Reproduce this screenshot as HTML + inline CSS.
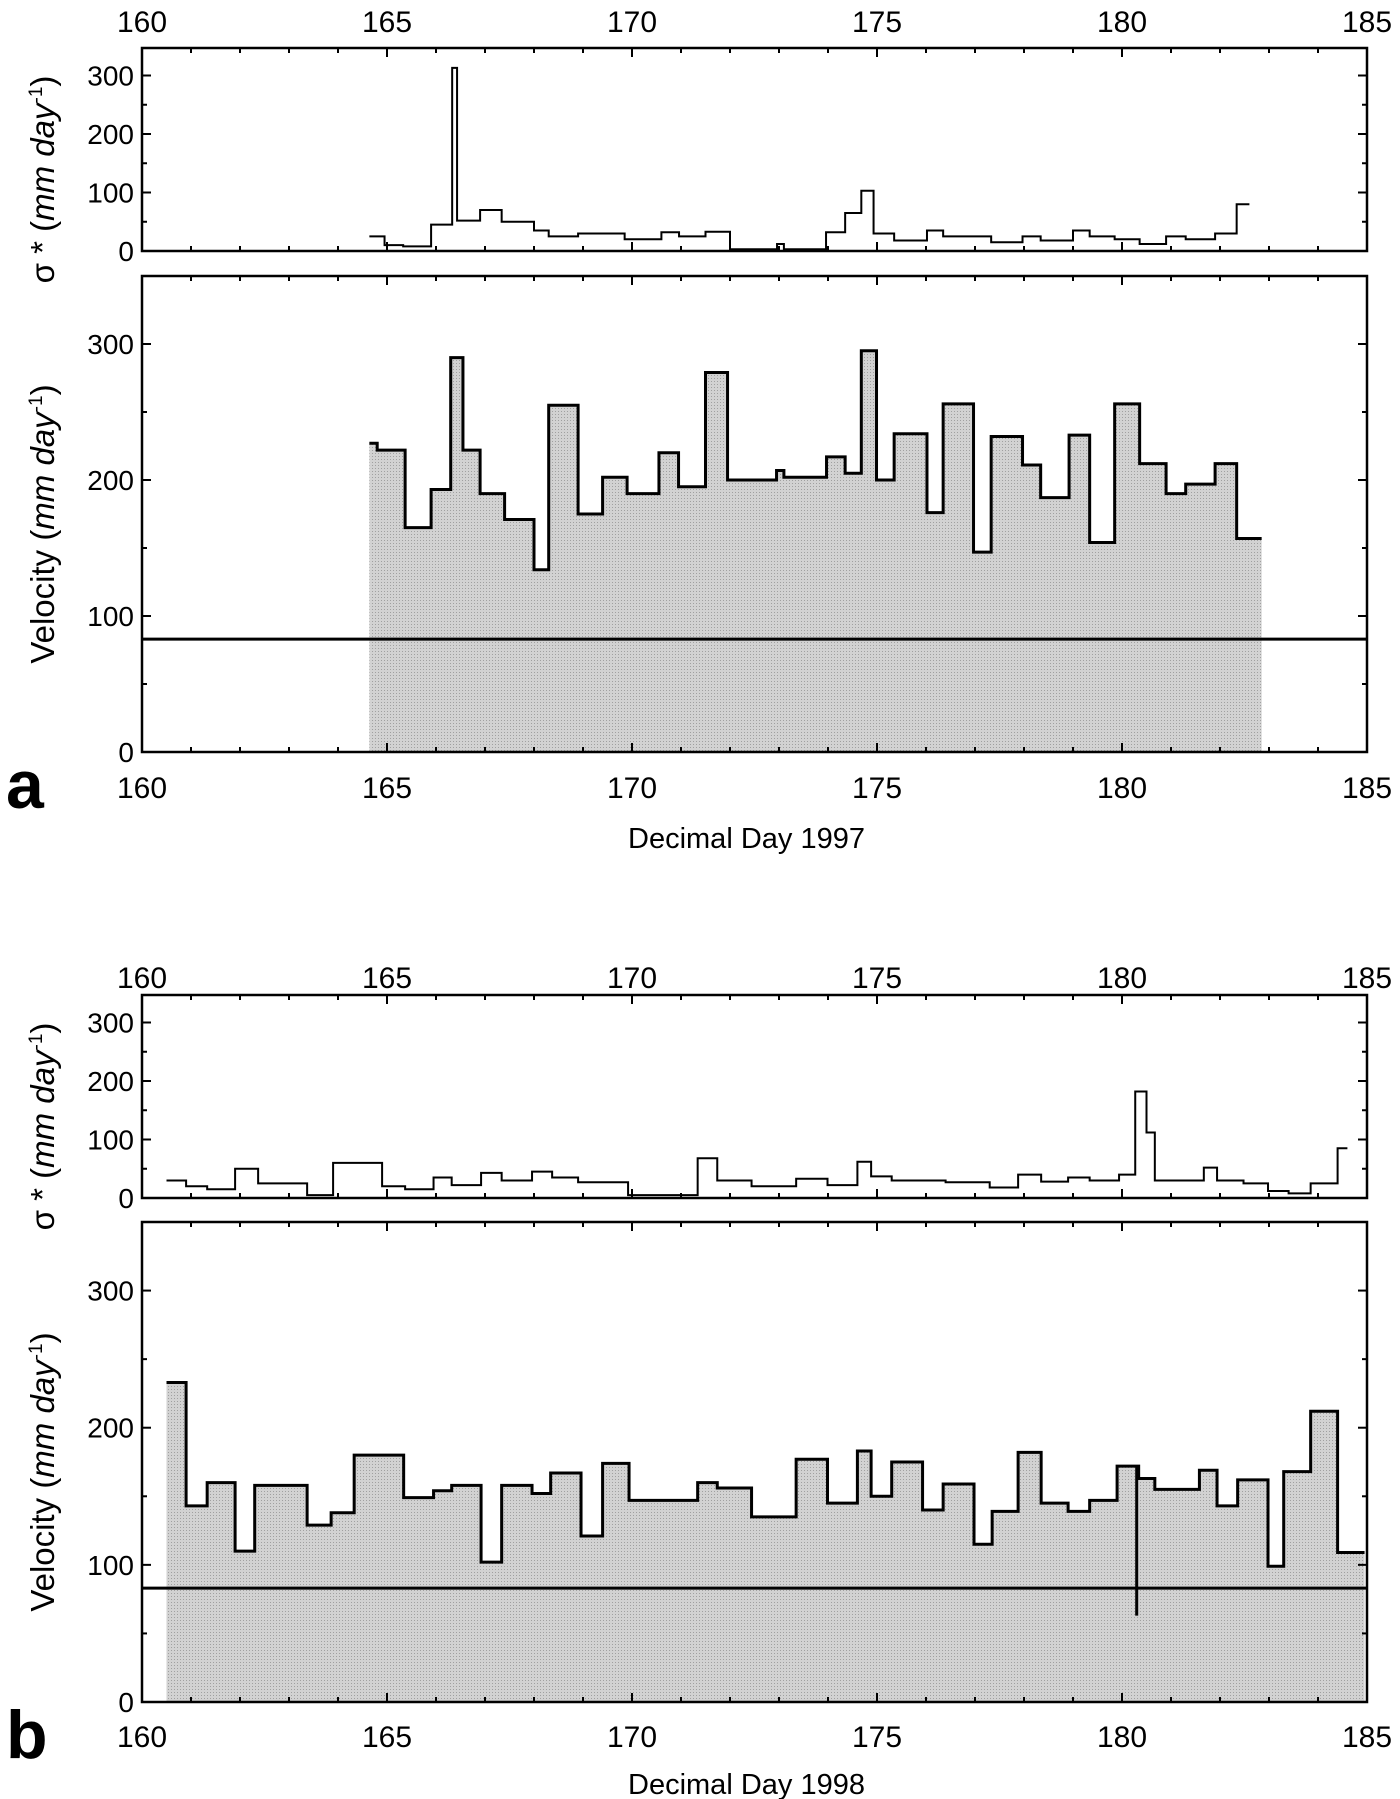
<!DOCTYPE html>
<html><head><meta charset="utf-8">
<style>
html,body{margin:0;padding:0;background:#fff;}
svg{display:block;font-family:"Liberation Sans",Arial,sans-serif;}
</style></head>
<body>
<svg id="chart" width="1400" height="1799" viewBox="0 0 1400 1799" xmlns="http://www.w3.org/2000/svg">
<defs>
<pattern id="stip" width="3" height="3" patternUnits="userSpaceOnUse">
<rect width="3" height="3" fill="#d2d2d2"/>
<rect width="1" height="1" fill="#a0a0a0"/>
</pattern>
</defs>
</svg>
<script>
// ---- Data: 1997 (panel a) ----
const velAStarts=[164.64,164.8,165.37,165.9,166.3,166.55,166.9,167.4,168.0,168.3,168.9,169.4,169.9,170.55,170.95,171.5,171.95,172.95,173.1,173.97,174.35,174.68,174.99,175.35,176.02,176.35,176.97,177.33,177.97,178.34,178.92,179.34,179.85,180.36,180.9,181.3,181.9,182.34];
const velAValues=[227,222,165,193,290,222,190,171,134,255,175,202,190,220,195,279,200,207,202,217,205,295,200,234,176,256,147,232,211,187,233,154,256,212,190,197,212,157];
const velAEnd=182.85;
const sigAStarts=[164.64,164.95,165.33,165.9,166.33,166.43,166.9,167.34,168.0,168.3,168.9,169.85,170.6,170.96,171.5,172.0,172.96,173.1,173.96,174.35,174.68,174.93,175.35,176.02,176.35,177.33,177.97,178.34,179.0,179.34,179.85,180.36,180.9,181.3,181.9,182.34];
const sigAValues=[25,10,8,45,313,52,70,50,35,25,30,20,32,25,33,3,12,3,32,65,103,30,18,35,25,15,25,18,35,25,20,12,25,20,30,80];
const sigAEnd=182.6;
// ---- Data: 1998 (panel b) ----
const velBStarts=[160.5,160.9,161.33,161.9,162.3,163.37,163.86,164.33,165.34,165.95,166.32,166.92,167.34,167.96,168.34,168.96,169.4,169.94,171.34,171.74,172.44,173.35,173.99,174.6,174.88,175.3,175.93,176.35,176.98,177.35,177.88,178.35,178.9,179.34,179.9,180.34,180.67,181.58,181.94,182.36,182.98,183.3,183.85,184.4];
const velBValues=[233,143,160,110,158,129,138,180,149,154,158,102,158,152,167,121,174,147,160,156,135,177,145,183,150,175,140,159,115,139,182,145,139,147,172,163,155,169,143,162,99,168,212,109];
const velBEnd=184.95;
const sigBStarts=[160.5,160.9,161.33,161.9,162.37,163.37,163.9,164.9,165.37,165.95,166.32,166.92,167.34,167.96,168.37,168.9,169.92,171.34,171.74,172.44,173.35,173.99,174.6,174.88,175.3,176.4,177.3,177.88,178.35,178.9,179.34,179.94,180.27,180.5,180.67,181.67,181.94,182.48,182.98,183.4,183.85,184.4];
const sigBValues=[30,20,15,50,25,5,60,20,15,35,22,43,30,45,35,27,5,68,30,20,33,22,62,37,30,27,18,40,28,35,30,40,182,112,30,52,30,25,12,8,25,85];
const sigBEnd=184.6;
const refVelocity=83;
const errBarB=[180.3,172,63];
const xTicks=[160,165,170,175,180,185];
const velTicks=[0,100,200,300];
const sigTicks=[0,100,200,300];

const NS="http://www.w3.org/2000/svg";
const svg=document.getElementById('chart');
function mk(tag,attrs,parent){const e=document.createElementNS(NS,tag);for(const k in attrs)e.setAttribute(k,attrs[k]);(parent||svg).appendChild(e);return e;}
const X0=142,X1=1367;
function xs(d){return X0+(d-160)/25*(X1-X0);}
function ys(top,bot,max){return v=>bot-v/max*(bot-top);}

function frame(g,top,bot,yfn,yt,minorMax){
  const r=mk('rect',{x:X0,y:top,width:X1-X0,height:bot-top,fill:'none',stroke:'#000','stroke-width':2.5},g);
  
  
  for(let d=160;d<=185;d++){
    const L=(d%5===0)?9:5;
    mk('line',{x1:xs(d),x2:xs(d),y1:bot,y2:bot-L,stroke:'#000','stroke-width':2},g);
    mk('line',{x1:xs(d),x2:xs(d),y1:top,y2:top+L,stroke:'#000','stroke-width':2},g);
  }
  for(let v=0;v<=minorMax;v+=50){
    const L=(v%100===0)?9:5;
    mk('line',{x1:X0,x2:X0+L,y1:yfn(v),y2:yfn(v),stroke:'#000','stroke-width':2},g);
    mk('line',{x1:X1,x2:X1-L,y1:yfn(v),y2:yfn(v),stroke:'#000','stroke-width':2},g);
  }
  yt.forEach(v=>{
    const t=mk('text',{x:134,y:yfn(v)+10,'text-anchor':'end','font-size':28},g);
    t.textContent=v;
    
    
  });
}
function stepPath(starts,vals,end,yfn){
  let p='';
  for(let i=0;i<starts.length;i++){
    const x0=xs(starts[i]),x1=xs(i+1<starts.length?starts[i+1]:end),y=yfn(vals[i]);
    p+=(i===0?'M':'L')+x0+','+y+' L'+x1+','+y+' ';
  }
  return p;
}
function xlabels(g,y){
  xTicks.forEach(d=>{
    const t=mk('text',{x:xs(d),y:y,'text-anchor':'middle','font-size':30},g);
    t.textContent=d;
    
    
  });
}
function rotTitle(g,x,y,html,name){
  const t=mk('text',{x:x,y:y,'text-anchor':'middle','font-size':33,transform:'rotate(-90 '+x+' '+y+')'},g);
  t.innerHTML=html;
  
  
}
function panel(cfg){
  const g=mk('g',{});
  
  
  const ySig=ys(cfg.sTop,cfg.sBot,347);
  const yVel=ys(cfg.vTop,cfg.vBot,350);
  const vp=stepPath(cfg.vs,cfg.vv,cfg.ve,yVel);
  const fill=mk('path',{d:vp+'L'+xs(cfg.ve)+','+cfg.vBot+' L'+xs(cfg.vs[0])+','+cfg.vBot+' Z',fill:'url(#stip)',stroke:'none'},g);
  
  
  const vl=mk('path',{d:vp,fill:'none',stroke:'#000','stroke-width':3},g);
  
  
  const ref=mk('line',{x1:X0,x2:X1,y1:yVel(refVelocity),y2:yVel(refVelocity),stroke:'#000','stroke-width':3},g);
  
  
  const sl=mk('path',{d:stepPath(cfg.ss,cfg.sv,cfg.se,ySig),fill:'none',stroke:'#000','stroke-width':2},g);
  
  
  frame(g,cfg.sTop,cfg.sBot,ySig,sigTicks,300);
  frame(g,cfg.vTop,cfg.vBot,yVel,velTicks,350);
  xlabels(g,cfg.topLblY);
  xlabels(g,cfg.botLblY);
  const xt=mk('text',{x:(X0+X1)/2-8,y:cfg.xTitleY,'text-anchor':'middle','font-size':29},g);
  xt.textContent=cfg.xTitle;
  
  
  rotTitle(g,54,(cfg.sTop+cfg.sBot)/2+30,'σ * (<tspan font-style="italic">mm day</tspan><tspan font-size="19" dy="-12">-1</tspan><tspan dy="12">)</tspan>','sigma-axis-title');
  rotTitle(g,54,(cfg.vTop+cfg.vBot)/2+10,'Velocity (<tspan font-style="italic">mm day</tspan><tspan font-size="19" dy="-12">-1</tspan><tspan dy="12">)</tspan>','velocity-axis-title');
  const lt=mk('text',{x:6,y:cfg.vBot+56,'font-size':68,'font-weight':'bold'},g);
  lt.textContent=cfg.letter;
  
  
  return {g,yVel};
}
panel({name:'panel-a-1997',sTop:48,sBot:251,vTop:276,vBot:752,vs:velAStarts,vv:velAValues,ve:velAEnd,ss:sigAStarts,sv:sigAValues,se:sigAEnd,topLblY:32,botLblY:798,xTitleY:848,xTitle:'Decimal Day 1997',letter:'a'});
const pb=panel({name:'panel-b-1998',sTop:995,sBot:1198,vTop:1222,vBot:1702,vs:velBStarts,vv:velBValues,ve:velBEnd,ss:sigBStarts,sv:sigBValues,se:sigBEnd,topLblY:988,botLblY:1747,xTitleY:1794,xTitle:'Decimal Day 1998',letter:'b'});
const eb=mk('line',{x1:xs(errBarB[0]),x2:xs(errBarB[0]),y1:pb.yVel(errBarB[1]),y2:pb.yVel(errBarB[2]),stroke:'#000','stroke-width':3},pb.g);


</script>
</body></html>
